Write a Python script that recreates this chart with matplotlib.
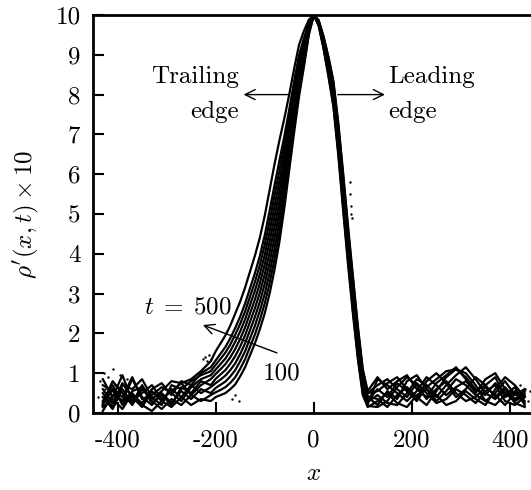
import matplotlib
matplotlib.use("Agg")
import matplotlib.pyplot as plt

plt.rcParams['font.family'] = ['cmr10', 'DejaVu Serif']
plt.rcParams['mathtext.fontset'] = 'cm'
plt.rcParams['axes.unicode_minus'] = False

# ---- data -------------------------------------------------------------
x_left_tail = [-430, -410, -390, -370, -350, -330, -310, -290, -270, -250, -230, -210]
x_core_left = [-200, -190, -180, -170, -160, -150, -140, -130, -120, -110, -100,
               -90, -80, -70, -60, -50, -40, -30, -20, -10, 0]
x_core_right = [10, 20, 30, 40, 50, 60, 70, 80, 90, 100, 110]
x_right_tail = [130, 150, 170, 190, 210, 230, 250, 270, 290, 310, 330, 350, 370, 390, 410, 430]

left_tail = [
    [0.15, 0.35, 0.10, 0.50, 0.20, 0.05, 0.30, 0.15, 0.40, 0.20, 0.35, 0.30],
    [0.40, 0.10, 0.60, 0.25, 0.70, 0.30, 0.10, 0.35, 0.20, 0.45, 0.30, 0.45],
    [0.05, 0.45, 0.30, 0.85, 0.40, 0.20, 0.50, 0.25, 0.55, 0.35, 0.60, 0.50],
    [0.60, 0.25, 0.75, 0.40, 0.15, 0.55, 0.30, 0.60, 0.40, 0.70, 0.50, 0.65],
    [0.30, 0.70, 0.20, 0.55, 0.65, 0.25, 0.45, 0.20, 0.65, 0.50, 0.80, 0.70],
    [0.85, 0.40, 0.95, 0.30, 0.50, 0.70, 0.35, 0.55, 0.75, 0.45, 0.70, 0.85],
    [0.20, 0.60, 0.40, 0.90, 0.35, 0.45, 0.65, 0.50, 0.30, 0.65, 0.85, 0.95],
    [0.50, 0.15, 0.70, 0.60, 0.85, 0.40, 0.20, 0.70, 0.60, 0.80, 0.95, 1.05],
    [0.70, 0.55, 0.30, 0.45, 0.25, 0.60, 0.75, 0.45, 0.80, 0.70, 1.00, 1.15],
    [0.25, 0.80, 0.50, 0.20, 0.60, 0.35, 0.55, 0.80, 0.75, 0.85, 1.05, 1.30],
]

core_left = [
    [0.40, 0.45, 0.50, 0.60, 0.72, 0.92, 1.15, 1.45, 1.75, 2.10, 2.50, 3.00, 3.60, 4.30, 5.15, 6.10, 7.05, 7.95, 8.70, 9.50, 10],
    [0.52, 0.58, 0.65, 0.76, 0.90, 1.11, 1.35, 1.66, 1.97, 2.33, 2.75, 3.26, 3.87, 4.56, 5.38, 6.29, 7.21, 8.08, 8.79, 9.54, 10],
    [0.63, 0.71, 0.79, 0.92, 1.08, 1.30, 1.55, 1.87, 2.19, 2.56, 2.99, 3.52, 4.13, 4.81, 5.60, 6.48, 7.37, 8.21, 8.88, 9.58, 10],
    [0.75, 0.84, 0.94, 1.08, 1.25, 1.48, 1.75, 2.08, 2.41, 2.79, 3.24, 3.78, 4.40, 5.07, 5.83, 6.67, 7.53, 8.34, 8.97, 9.61, 10],
    [0.86, 0.97, 1.08, 1.24, 1.43, 1.67, 1.95, 2.29, 2.63, 3.02, 3.48, 4.04, 4.66, 5.32, 6.05, 6.86, 7.69, 8.47, 9.06, 9.65, 10],
    [0.98, 1.10, 1.23, 1.40, 1.61, 1.86, 2.15, 2.50, 2.85, 3.25, 3.73, 4.30, 4.93, 5.58, 6.28, 7.05, 7.85, 8.60, 9.15, 9.69, 10],
    [1.09, 1.23, 1.37, 1.56, 1.79, 2.05, 2.35, 2.71, 3.07, 3.48, 3.97, 4.56, 5.19, 5.83, 6.50, 7.24, 8.01, 8.73, 9.24, 9.73, 10],
    [1.21, 1.36, 1.52, 1.72, 1.97, 2.24, 2.55, 2.92, 3.29, 3.71, 4.22, 4.82, 5.46, 6.09, 6.73, 7.43, 8.17, 8.86, 9.33, 9.77, 10],
    [1.32, 1.49, 1.66, 1.88, 2.14, 2.42, 2.75, 3.13, 3.51, 3.94, 4.46, 5.08, 5.72, 6.34, 6.95, 7.62, 8.33, 8.99, 9.42, 9.80, 10],
    [1.55, 1.75, 1.95, 2.20, 2.50, 2.80, 3.15, 3.55, 3.95, 4.40, 4.95, 5.60, 6.25, 6.85, 7.40, 8.00, 8.65, 9.25, 9.60, 9.88, 10],
]

core_right = [
    [9.80, 9.30, 8.70, 8.00, 6.85, 5.50, 4.15, 2.90, 1.70, 0.75, 0.30],
    [9.84, 9.40, 8.85, 8.20, 7.10, 5.80, 4.45, 3.20, 1.95, 0.95, 0.40],
    [9.76, 9.22, 8.58, 7.85, 6.65, 5.30, 3.95, 2.70, 1.55, 0.60, 0.22],
    [9.81, 9.34, 8.76, 8.08, 6.98, 5.65, 4.30, 3.05, 1.82, 0.85, 0.42],
    [9.86, 9.44, 8.92, 8.30, 7.22, 5.95, 4.60, 3.35, 2.10, 1.05, 0.50],
    [9.74, 9.18, 8.50, 7.75, 6.55, 5.15, 3.80, 2.55, 1.40, 0.50, 0.18],
    [9.82, 9.36, 8.80, 8.12, 7.05, 5.72, 4.38, 3.12, 1.90, 0.90, 0.50],
    [9.78, 9.27, 8.65, 7.94, 6.77, 5.42, 4.06, 2.82, 1.62, 0.68, 0.28],
    [9.87, 9.46, 8.95, 8.35, 7.30, 6.02, 4.68, 3.42, 2.18, 1.10, 0.55],
    [9.73, 9.15, 8.45, 7.70, 6.48, 5.08, 3.72, 2.48, 1.35, 0.45, 0.15],
]

right_tail = [
    [0.60, 0.40, 0.75, 0.55, 0.30, 0.65, 0.85, 1.05, 1.10, 0.90, 0.60, 0.45, 0.75, 0.50, 0.30, 0.45],
    [0.20, 0.55, 0.35, 0.80, 0.95, 0.60, 0.40, 0.70, 0.95, 1.15, 0.85, 0.50, 0.35, 0.60, 0.25, 0.15],
    [0.85, 0.70, 0.50, 0.30, 0.55, 0.90, 0.70, 0.45, 0.65, 0.80, 0.55, 0.70, 0.90, 0.40, 0.55, 0.30],
    [0.35, 0.15, 0.45, 0.65, 0.40, 0.20, 0.55, 0.90, 1.10, 1.00, 0.70, 0.30, 0.50, 0.80, 0.45, 0.60],
    [0.70, 0.85, 0.60, 0.40, 0.75, 0.50, 0.25, 0.35, 0.60, 0.45, 0.25, 0.55, 0.70, 0.30, 0.20, 0.40],
    [0.15, 0.30, 0.65, 0.90, 0.70, 0.35, 0.60, 0.80, 0.50, 0.30, 0.40, 0.65, 0.45, 0.20, 0.50, 0.25],
    [0.55, 0.75, 0.90, 0.60, 0.35, 0.80, 1.00, 0.75, 0.40, 0.60, 0.90, 0.70, 0.40, 0.65, 0.35, 0.55],
    [0.45, 0.25, 0.20, 0.50, 0.85, 0.70, 0.45, 0.20, 0.30, 0.55, 0.35, 0.20, 0.60, 0.90, 0.70, 0.40],
    [0.90, 0.60, 0.80, 0.95, 0.60, 0.40, 0.75, 0.95, 1.15, 0.85, 0.50, 0.85, 1.00, 0.60, 0.30, 0.50],
    [0.30, 0.50, 0.25, 0.15, 0.45, 0.60, 0.30, 0.55, 0.85, 0.70, 0.45, 0.30, 0.20, 0.45, 0.65, 0.20],
]

dots_x = [-440, -435, -432, -428, -425, -420, -415, -410, -405, -400, -395, -390, -385, -380,
          -226, -222, -218, -213, -209, -167, -160, -152, 73, 74, 75, 76, 77,
          415, 420, 425, 430, 436, 440]
dots_y = [0.4, 0.8, 0.2, 1.0, 0.6, 0.9, 0.3, 1.1, 0.7, 0.5, 0.95, 0.25, 0.65, 0.85,
          1.35, 1.4, 1.3, 1.45, 1.35, 0.35, 0.45, 0.3, 5.8, 5.5, 5.2, 5.0, 4.9,
          0.5, 0.7, 0.4, 0.6, 0.3, 0.55]

x_ticks = [-400, -200, 0, 200, 400]
y_ticks = list(range(0, 11))

# ---- figure -------------------------------------------------------------
fig = plt.figure(figsize=(5.31, 4.90), dpi=100)
ax = fig.add_axes([93 / 531, 77 / 490, (534.5 - 93) / 531, (413 - 15) / 490])

x_all = x_left_tail + x_core_left + x_core_right + x_right_tail
for lt, cl, cr, rt in zip(left_tail, core_left, core_right, right_tail):
    y_all = lt + cl + cr + rt
    ax.plot(x_all, y_all, color='black', lw=1.6, solid_joinstyle='round')

ax.plot(dots_x, dots_y, ls='none', marker='.', ms=1.5, color='black')

ax.set_xlim(-450, 450)
ax.set_ylim(0, 10)
ax.set_xticks(x_ticks)
ax.set_xticklabels([str(v) for v in x_ticks])
ax.set_yticks(y_ticks)

for s in ax.spines.values():
    s.set_linewidth(2.0)
ax.tick_params(direction='in', length=8, width=1.5, labelsize=18,
               top=False, right=False)
ax.tick_params(axis='x', pad=12)
ax.tick_params(axis='y', pad=9)

ax.set_xlabel(r'$x$', fontsize=18, labelpad=8)
ax.set_ylabel(r"$\rho'(x,t)\times 10$", fontsize=18, labelpad=10)

ax.text(-153, 8.0, "Trailing\nedge", ha='right', va='center',
        multialignment='right', fontsize=18, linespacing=1.75)
ax.text(151, 8.0, "Leading\nedge", ha='left', va='center',
        multialignment='left', fontsize=18, linespacing=1.75)
ax.annotate('', xy=(-143, 8.0), xytext=(-49, 8.0),
            arrowprops=dict(arrowstyle='->', lw=1.0, color='black',
                            mutation_scale=18, shrinkA=0, shrinkB=0))
ax.annotate('', xy=(145, 8.0), xytext=(49, 8.0),
            arrowprops=dict(arrowstyle='->', lw=1.0, color='black',
                            mutation_scale=18, shrinkA=0, shrinkB=0))

ax.text(-167, 2.64, r'$t\;=\;500$', ha='right', va='center', fontsize=18)
ax.annotate('', xy=(-226, 2.21), xytext=(-75, 1.51),
            arrowprops=dict(arrowstyle='->', lw=1.0, color='black',
                            mutation_scale=18, shrinkA=0, shrinkB=0))
ax.text(-65, 1.0, "100", ha='center', va='center', fontsize=18)

fig.savefig('out.png', dpi=100)
